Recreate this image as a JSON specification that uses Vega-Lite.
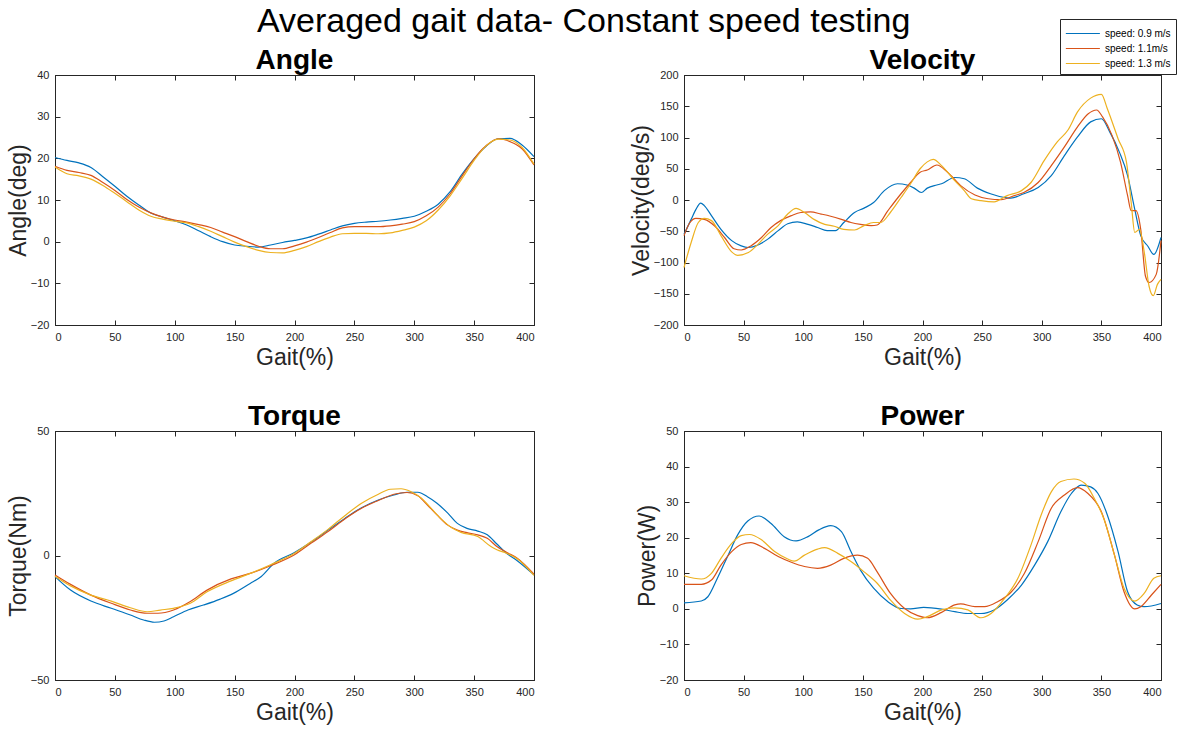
{
"$schema": "https://vega.github.io/schema/vega-lite/v6.json",
"padding": {"left": 6, "top": 4, "right": 3, "bottom": 3},
"title": {"text": "Averaged gait data- Constant speed testing", "fontSize": 34, "fontWeight": "normal", "font": "Liberation Sans", "color": "black", "anchor": "middle", "offset": -20, "dx": -8},
"config": {
  "font": "Liberation Sans",
  "view": {"stroke": "#262626", "strokeWidth": 1},
  "title": {"font": "Liberation Sans", "fontSize": 28, "fontWeight": "bold", "color": "black", "offset": -6},
  "axis": {"grid": false, "labelFont": "Liberation Sans", "labelFontSize": 11, "labelColor": "#262626", "titleFont": "Liberation Sans", "titleFontSize": 23, "titleFontWeight": "normal", "titleColor": "#262626", "tickColor": "#262626", "domainColor": "#262626", "tickSize": -5, "labelPadding": 11},
  "axisX": {"titlePadding": 4},
  "axisY": {"titlePadding": 0},
  "legend": {"orient": "none", "legendX": 1005, "legendY": -56, "fillColor": "white", "strokeColor": "#262626", "padding": 5, "labelFontSize": 10, "labelFont": "Liberation Sans", "labelColor": "black", "labelOffset": 21, "symbolType": "M-1,0H2.93", "symbolStrokeWidth": 1.2, "symbolSize": 300, "rowPadding": 0, "titleFontSize": 0}
},
"datasets": {
"angle": [
{"s":"a","g":0,"v":20.2},{"s":"a","g":10,"v":19.5},{"s":"a","g":20,"v":18.9},{"s":"a","g":30,"v":17.8},{"s":"a","g":40,"v":15.6},{"s":"a","g":50,"v":13.3},{"s":"a","g":60,"v":10.9},{"s":"a","g":70,"v":8.8},{"s":"a","g":80,"v":6.9},{"s":"a","g":90,"v":5.9},{"s":"a","g":100,"v":5.0},{"s":"a","g":110,"v":4.0},{"s":"a","g":120,"v":2.6},{"s":"a","g":130,"v":1.2},{"s":"a","g":140,"v":0.0},{"s":"a","g":150,"v":-0.8},{"s":"a","g":160,"v":-1.1},{"s":"a","g":170,"v":-1.3},{"s":"a","g":180,"v":-0.8},{"s":"a","g":190,"v":-0.2},{"s":"a","g":200,"v":0.3},{"s":"a","g":210,"v":0.9},{"s":"a","g":220,"v":1.8},{"s":"a","g":230,"v":2.8},{"s":"a","g":240,"v":3.8},{"s":"a","g":250,"v":4.4},{"s":"a","g":260,"v":4.7},{"s":"a","g":270,"v":4.9},{"s":"a","g":280,"v":5.2},{"s":"a","g":290,"v":5.6},{"s":"a","g":300,"v":6.1},{"s":"a","g":310,"v":7.3},{"s":"a","g":320,"v":9.0},{"s":"a","g":330,"v":12.0},{"s":"a","g":340,"v":16.2},{"s":"a","g":350,"v":19.9},{"s":"a","g":360,"v":22.9},{"s":"a","g":370,"v":24.7},{"s":"a","g":380,"v":24.8},{"s":"a","g":390,"v":23.2},{"s":"a","g":400,"v":20.4},
{"s":"b","g":0,"v":18.1},{"s":"b","g":10,"v":17.1},{"s":"b","g":20,"v":16.6},{"s":"b","g":30,"v":15.9},{"s":"b","g":40,"v":14.2},{"s":"b","g":50,"v":12.3},{"s":"b","g":60,"v":10.1},{"s":"b","g":70,"v":8.3},{"s":"b","g":80,"v":6.9},{"s":"b","g":90,"v":5.9},{"s":"b","g":100,"v":5.2},{"s":"b","g":110,"v":4.7},{"s":"b","g":120,"v":4.1},{"s":"b","g":130,"v":3.4},{"s":"b","g":140,"v":2.3},{"s":"b","g":150,"v":1.2},{"s":"b","g":160,"v":0.0},{"s":"b","g":170,"v":-1.1},{"s":"b","g":180,"v":-1.7},{"s":"b","g":190,"v":-1.7},{"s":"b","g":200,"v":-1.0},{"s":"b","g":210,"v":-0.1},{"s":"b","g":220,"v":1.0},{"s":"b","g":230,"v":2.2},{"s":"b","g":240,"v":3.3},{"s":"b","g":250,"v":3.6},{"s":"b","g":260,"v":3.6},{"s":"b","g":270,"v":3.6},{"s":"b","g":280,"v":3.8},{"s":"b","g":290,"v":4.2},{"s":"b","g":300,"v":4.8},{"s":"b","g":310,"v":6.2},{"s":"b","g":320,"v":8.3},{"s":"b","g":330,"v":11.5},{"s":"b","g":340,"v":15.8},{"s":"b","g":350,"v":19.9},{"s":"b","g":360,"v":23.0},{"s":"b","g":370,"v":24.7},{"s":"b","g":380,"v":24.0},{"s":"b","g":390,"v":22.3},{"s":"b","g":400,"v":18.4},
{"s":"c","g":0,"v":17.9},{"s":"c","g":10,"v":16.3},{"s":"c","g":20,"v":15.8},{"s":"c","g":30,"v":15.0},{"s":"c","g":40,"v":13.5},{"s":"c","g":50,"v":11.6},{"s":"c","g":60,"v":9.6},{"s":"c","g":70,"v":7.6},{"s":"c","g":80,"v":6.1},{"s":"c","g":90,"v":5.4},{"s":"c","g":100,"v":4.9},{"s":"c","g":110,"v":4.5},{"s":"c","g":120,"v":3.6},{"s":"c","g":130,"v":2.5},{"s":"c","g":140,"v":1.2},{"s":"c","g":150,"v":-0.1},{"s":"c","g":160,"v":-1.2},{"s":"c","g":170,"v":-2.1},{"s":"c","g":180,"v":-2.6},{"s":"c","g":190,"v":-2.7},{"s":"c","g":200,"v":-2.1},{"s":"c","g":210,"v":-1.2},{"s":"c","g":220,"v":0.0},{"s":"c","g":230,"v":1.1},{"s":"c","g":240,"v":1.9},{"s":"c","g":250,"v":2.0},{"s":"c","g":260,"v":2.0},{"s":"c","g":270,"v":1.9},{"s":"c","g":280,"v":2.1},{"s":"c","g":290,"v":2.7},{"s":"c","g":300,"v":3.5},{"s":"c","g":310,"v":5.0},{"s":"c","g":320,"v":7.6},{"s":"c","g":330,"v":11.0},{"s":"c","g":340,"v":15.2},{"s":"c","g":350,"v":19.5},{"s":"c","g":360,"v":23.0},{"s":"c","g":370,"v":24.6},{"s":"c","g":380,"v":24.4},{"s":"c","g":390,"v":22.6},{"s":"c","g":400,"v":18.6}
],
"velocity": [
{"s":"a","g":0,"v":-55},{"s":"a","g":6,"v":-31},{"s":"a","g":10,"v":-15},{"s":"a","g":14,"v":-5},{"s":"a","g":17,"v":-9},{"s":"a","g":23,"v":-25},{"s":"a","g":31,"v":-47},{"s":"a","g":40,"v":-65},{"s":"a","g":48,"v":-73.5},{"s":"a","g":54,"v":-76},{"s":"a","g":62,"v":-72},{"s":"a","g":70,"v":-63},{"s":"a","g":79,"v":-49},{"s":"a","g":87,"v":-38},{"s":"a","g":95,"v":-35},{"s":"a","g":104,"v":-39},{"s":"a","g":112,"v":-44},{"s":"a","g":120,"v":-49},{"s":"a","g":127,"v":-49},{"s":"a","g":134,"v":-36},{"s":"a","g":143,"v":-20},{"s":"a","g":151,"v":-13},{"s":"a","g":159,"v":-4},{"s":"a","g":168,"v":15},{"s":"a","g":179,"v":26},{"s":"a","g":187,"v":24},{"s":"a","g":193,"v":19},{"s":"a","g":199,"v":12},{"s":"a","g":204,"v":19},{"s":"a","g":212,"v":24},{"s":"a","g":216,"v":26},{"s":"a","g":227,"v":36},{"s":"a","g":235,"v":34},{"s":"a","g":246,"v":19},{"s":"a","g":257,"v":10},{"s":"a","g":269,"v":4},{"s":"a","g":274,"v":3},{"s":"a","g":285,"v":10},{"s":"a","g":297,"v":20},{"s":"a","g":308,"v":39},{"s":"a","g":319,"v":71},{"s":"a","g":330,"v":101},{"s":"a","g":341,"v":125},{"s":"a","g":350,"v":130},{"s":"a","g":357,"v":109},{"s":"a","g":365,"v":77},{"s":"a","g":372,"v":39},{"s":"a","g":378,"v":-15},{"s":"a","g":383,"v":-57},{"s":"a","g":389,"v":-74},{"s":"a","g":394,"v":-87},{"s":"a","g":400,"v":-60},
{"s":"b","g":0,"v":-57},{"s":"b","g":5,"v":-36},{"s":"b","g":10,"v":-29.5},{"s":"b","g":17,"v":-31},{"s":"b","g":26,"v":-42},{"s":"b","g":34,"v":-60},{"s":"b","g":42,"v":-78},{"s":"b","g":48,"v":-80},{"s":"b","g":56,"v":-73.5},{"s":"b","g":65,"v":-60},{"s":"b","g":73,"v":-44},{"s":"b","g":81,"v":-33},{"s":"b","g":90,"v":-25},{"s":"b","g":98,"v":-20},{"s":"b","g":106,"v":-19},{"s":"b","g":115,"v":-22.5},{"s":"b","g":123,"v":-26},{"s":"b","g":132,"v":-31},{"s":"b","g":140,"v":-36},{"s":"b","g":148,"v":-39},{"s":"b","g":157,"v":-41},{"s":"b","g":162,"v":-40},{"s":"b","g":171,"v":-17},{"s":"b","g":182,"v":10},{"s":"b","g":190,"v":28},{"s":"b","g":198,"v":44.5},{"s":"b","g":204,"v":48},{"s":"b","g":212,"v":56},{"s":"b","g":221,"v":44.5},{"s":"b","g":232,"v":23},{"s":"b","g":244,"v":8},{"s":"b","g":255,"v":2},{"s":"b","g":266,"v":0.5},{"s":"b","g":277,"v":7},{"s":"b","g":285,"v":12},{"s":"b","g":297,"v":28},{"s":"b","g":308,"v":55},{"s":"b","g":319,"v":85},{"s":"b","g":330,"v":117},{"s":"b","g":339,"v":138},{"s":"b","g":346,"v":144},{"s":"b","g":351,"v":133},{"s":"b","g":359,"v":103},{"s":"b","g":366,"v":61},{"s":"b","g":372,"v":7},{"s":"b","g":375,"v":-17},{"s":"b","g":379,"v":-17},{"s":"b","g":383,"v":-47},{"s":"b","g":387,"v":-122},{"s":"b","g":390,"v":-132},{"s":"b","g":396,"v":-119},{"s":"b","g":400,"v":-65},
{"s":"c","g":0,"v":-108},{"s":"c","g":6,"v":-68},{"s":"c","g":12,"v":-36},{"s":"c","g":17,"v":-29.5},{"s":"c","g":23,"v":-33},{"s":"c","g":31,"v":-57},{"s":"c","g":40,"v":-83},{"s":"c","g":45,"v":-88.5},{"s":"c","g":54,"v":-84},{"s":"c","g":62,"v":-71},{"s":"c","g":70,"v":-55},{"s":"c","g":79,"v":-41},{"s":"c","g":87,"v":-22.5},{"s":"c","g":94,"v":-13.5},{"s":"c","g":101,"v":-20},{"s":"c","g":109,"v":-31},{"s":"c","g":118,"v":-39},{"s":"c","g":126,"v":-42},{"s":"c","g":134,"v":-47},{"s":"c","g":143,"v":-48},{"s":"c","g":151,"v":-41},{"s":"c","g":159,"v":-36},{"s":"c","g":165,"v":-36},{"s":"c","g":173,"v":-20},{"s":"c","g":182,"v":4},{"s":"c","g":190,"v":26},{"s":"c","g":198,"v":50},{"s":"c","g":204,"v":61},{"s":"c","g":209,"v":65},{"s":"c","g":216,"v":55},{"s":"c","g":227,"v":31},{"s":"c","g":235,"v":15},{"s":"c","g":241,"v":2},{"s":"c","g":249,"v":-1},{"s":"c","g":260,"v":-3},{"s":"c","g":271,"v":7},{"s":"c","g":283,"v":15},{"s":"c","g":291,"v":28},{"s":"c","g":302,"v":63},{"s":"c","g":313,"v":93},{"s":"c","g":322,"v":112},{"s":"c","g":330,"v":141},{"s":"c","g":341,"v":163},{"s":"c","g":350,"v":169},{"s":"c","g":355,"v":146},{"s":"c","g":364,"v":98},{"s":"c","g":371,"v":61},{"s":"c","g":375,"v":-4},{"s":"c","g":378,"v":-52},{"s":"c","g":382,"v":-47},{"s":"c","g":386,"v":-84},{"s":"c","g":390,"v":-138},{"s":"c","g":393.5,"v":-153},{"s":"c","g":397,"v":-135},{"s":"c","g":400,"v":-127}
],
"torque": [
{"s":"a","g":0,"v":-8.5},{"s":"a","g":13,"v":-13.9},{"s":"a","g":30,"v":-18.3},{"s":"a","g":47,"v":-21.2},{"s":"a","g":63,"v":-23.9},{"s":"a","g":74,"v":-25.9},{"s":"a","g":83,"v":-26.8},{"s":"a","g":91,"v":-26.3},{"s":"a","g":99,"v":-24.6},{"s":"a","g":111,"v":-21.9},{"s":"a","g":124,"v":-19.9},{"s":"a","g":138,"v":-17.5},{"s":"a","g":149,"v":-15.2},{"s":"a","g":163,"v":-11.2},{"s":"a","g":172,"v":-8.5},{"s":"a","g":183,"v":-3.1},{"s":"a","g":200,"v":1.2},{"s":"a","g":214,"v":5.4},{"s":"a","g":228,"v":10.2},{"s":"a","g":242,"v":14.9},{"s":"a","g":256,"v":19.2},{"s":"a","g":270,"v":22.3},{"s":"a","g":283,"v":24.3},{"s":"a","g":294,"v":25.4},{"s":"a","g":303,"v":25.4},{"s":"a","g":311,"v":23.6},{"s":"a","g":319,"v":21},{"s":"a","g":328,"v":17},{"s":"a","g":336,"v":12.9},{"s":"a","g":344,"v":10.9},{"s":"a","g":353,"v":9.8},{"s":"a","g":361,"v":8.3},{"s":"a","g":369,"v":4.6},{"s":"a","g":377,"v":0.9},{"s":"a","g":386,"v":-2.1},{"s":"a","g":400,"v":-7.8},
{"s":"b","g":0,"v":-7.8},{"s":"b","g":13,"v":-11.6},{"s":"b","g":30,"v":-15.9},{"s":"b","g":47,"v":-19.2},{"s":"b","g":63,"v":-21.9},{"s":"b","g":77,"v":-23.2},{"s":"b","g":86,"v":-23.2},{"s":"b","g":99,"v":-21.9},{"s":"b","g":113,"v":-18.5},{"s":"b","g":127,"v":-13.9},{"s":"b","g":147,"v":-9.4},{"s":"b","g":163,"v":-7.2},{"s":"b","g":180,"v":-4.1},{"s":"b","g":200,"v":0.3},{"s":"b","g":214,"v":5},{"s":"b","g":228,"v":9.6},{"s":"b","g":242,"v":14.7},{"s":"b","g":256,"v":19},{"s":"b","g":270,"v":22.1},{"s":"b","g":283,"v":24.6},{"s":"b","g":294,"v":25.3},{"s":"b","g":303,"v":24},{"s":"b","g":311,"v":20.3},{"s":"b","g":319,"v":16.3},{"s":"b","g":328,"v":12.2},{"s":"b","g":336,"v":10.2},{"s":"b","g":344,"v":9.2},{"s":"b","g":353,"v":8.3},{"s":"b","g":361,"v":6.9},{"s":"b","g":369,"v":3.6},{"s":"b","g":377,"v":1.3},{"s":"b","g":386,"v":-1.1},{"s":"b","g":400,"v":-7.5},
{"s":"c","g":0,"v":-8.3},{"s":"c","g":13,"v":-12.2},{"s":"c","g":30,"v":-15.9},{"s":"c","g":47,"v":-18.3},{"s":"c","g":63,"v":-21},{"s":"c","g":77,"v":-22.6},{"s":"c","g":88,"v":-21.9},{"s":"c","g":99,"v":-21.2},{"s":"c","g":113,"v":-19.2},{"s":"c","g":127,"v":-14.6},{"s":"c","g":147,"v":-10.2},{"s":"c","g":163,"v":-7.2},{"s":"c","g":180,"v":-3.7},{"s":"c","g":200,"v":0.9},{"s":"c","g":214,"v":5.6},{"s":"c","g":228,"v":10.5},{"s":"c","g":242,"v":16},{"s":"c","g":256,"v":21},{"s":"c","g":270,"v":24.6},{"s":"c","g":280,"v":26.6},{"s":"c","g":289,"v":26.8},{"s":"c","g":297,"v":25.7},{"s":"c","g":306,"v":23},{"s":"c","g":314,"v":19},{"s":"c","g":322,"v":14.9},{"s":"c","g":331,"v":11.2},{"s":"c","g":339,"v":9.3},{"s":"c","g":353,"v":7.6},{"s":"c","g":364,"v":3.6},{"s":"c","g":369,"v":2.3},{"s":"c","g":377,"v":0.9},{"s":"c","g":386,"v":-1.3},{"s":"c","g":400,"v":-8.0}
],
"power": [
{"s":"a","g":0,"v":1.7},{"s":"a","g":14.5,"v":2.2},{"s":"a","g":20,"v":3.4},{"s":"a","g":28,"v":8.6},{"s":"a","g":37,"v":15.1},{"s":"a","g":45,"v":20.8},{"s":"a","g":53.5,"v":24.7},{"s":"a","g":63,"v":26.1},{"s":"a","g":73,"v":24},{"s":"a","g":84,"v":20.3},{"s":"a","g":94,"v":19.1},{"s":"a","g":104,"v":20.3},{"s":"a","g":113,"v":22.2},{"s":"a","g":123,"v":23.4},{"s":"a","g":132,"v":21.7},{"s":"a","g":140,"v":16.1},{"s":"a","g":148,"v":10.9},{"s":"a","g":159,"v":5.8},{"s":"a","g":171,"v":2.0},{"s":"a","g":182,"v":0.1},{"s":"a","g":190,"v":0},{"s":"a","g":201,"v":0.4},{"s":"a","g":216,"v":-0.1},{"s":"a","g":227,"v":-0.8},{"s":"a","g":238,"v":-1.3},{"s":"a","g":249,"v":-1.3},{"s":"a","g":260,"v":-0.3},{"s":"a","g":271,"v":2.5},{"s":"a","g":283,"v":6.7},{"s":"a","g":294,"v":12.3},{"s":"a","g":305,"v":18.9},{"s":"a","g":316,"v":27.3},{"s":"a","g":325,"v":32.5},{"s":"a","g":333,"v":34.8},{"s":"a","g":341,"v":34.3},{"s":"a","g":347,"v":32.5},{"s":"a","g":355,"v":26.4},{"s":"a","g":364,"v":16.1},{"s":"a","g":372,"v":4.8},{"s":"a","g":380,"v":1.1},{"s":"a","g":386,"v":0.6},{"s":"a","g":400,"v":1.5},
{"s":"b","g":0,"v":6.9},{"s":"b","g":14.5,"v":6.9},{"s":"b","g":23,"v":8.1},{"s":"b","g":31,"v":12.3},{"s":"b","g":40,"v":16.1},{"s":"b","g":48,"v":18.1},{"s":"b","g":56,"v":18.6},{"s":"b","g":67.5,"v":17},{"s":"b","g":79,"v":14.7},{"s":"b","g":90,"v":13.1},{"s":"b","g":101,"v":11.9},{"s":"b","g":112,"v":11.4},{"s":"b","g":123,"v":12.3},{"s":"b","g":134,"v":14.2},{"s":"b","g":145.5,"v":15.1},{"s":"b","g":154,"v":14.2},{"s":"b","g":162,"v":10.4},{"s":"b","g":173,"v":4.4},{"s":"b","g":185,"v":0.1},{"s":"b","g":196,"v":-1.9},{"s":"b","g":204,"v":-2.5},{"s":"b","g":216,"v":-1},{"s":"b","g":227,"v":1.1},{"s":"b","g":232,"v":1.4},{"s":"b","g":244,"v":0.6},{"s":"b","g":252,"v":0.6},{"s":"b","g":263,"v":2.0},{"s":"b","g":274,"v":4.6},{"s":"b","g":285.5,"v":10},{"s":"b","g":297,"v":18.9},{"s":"b","g":308,"v":28.3},{"s":"b","g":319,"v":32},{"s":"b","g":330,"v":34.1},{"s":"b","g":338.5,"v":32.5},{"s":"b","g":350,"v":27.3},{"s":"b","g":361,"v":15.1},{"s":"b","g":369,"v":4.8},{"s":"b","g":378,"v":0},{"s":"b","g":383,"v":0.6},{"s":"b","g":392,"v":3.9},{"s":"b","g":400,"v":6.9},
{"s":"c","g":0,"v":9.3},{"s":"c","g":14.5,"v":8.4},{"s":"c","g":23,"v":10},{"s":"c","g":31,"v":14.2},{"s":"c","g":40,"v":18.4},{"s":"c","g":48,"v":20.6},{"s":"c","g":55,"v":20.9},{"s":"c","g":65,"v":19.4},{"s":"c","g":76,"v":16.1},{"s":"c","g":87,"v":14},{"s":"c","g":92.5,"v":13.4},{"s":"c","g":101,"v":15.1},{"s":"c","g":112,"v":16.8},{"s":"c","g":118,"v":17.2},{"s":"c","g":129,"v":15.6},{"s":"c","g":140,"v":13.3},{"s":"c","g":151,"v":10.4},{"s":"c","g":162,"v":7.2},{"s":"c","g":173,"v":2.5},{"s":"c","g":185,"v":-1.3},{"s":"c","g":196,"v":-2.9},{"s":"c","g":204,"v":-2.2},{"s":"c","g":216,"v":-0.3},{"s":"c","g":227,"v":0.3},{"s":"c","g":238,"v":-0.3},{"s":"c","g":249,"v":-2.5},{"s":"c","g":257.5,"v":-1.3},{"s":"c","g":269,"v":3.0},{"s":"c","g":280,"v":8.6},{"s":"c","g":291,"v":18},{"s":"c","g":299.5,"v":26.4},{"s":"c","g":308,"v":32.9},{"s":"c","g":316,"v":35.8},{"s":"c","g":327,"v":36.5},{"s":"c","g":336,"v":35.3},{"s":"c","g":344,"v":31.1},{"s":"c","g":352.5,"v":25},{"s":"c","g":361,"v":15.1},{"s":"c","g":369,"v":5.8},{"s":"c","g":378,"v":2.2},{"s":"c","g":386,"v":4.4},{"s":"c","g":394,"v":8.6},{"s":"c","g":400,"v":9.3}
]
},
"columns": 2,
"spacing": {"row": 106, "column": 150},
"bounds": "flush",
"concat": [
{"title": "Angle", "width": 479, "height": 250, "data": {"name": "angle"},
 "layer": [
  {"mark": {"type": "line", "interpolate": "monotone", "strokeWidth": 1.2},
   "encoding": {
    "x": {"field": "g", "type": "quantitative", "scale": {"domain": [0, 400], "nice": false}, "axis": {"title": "Gait(%)", "values": [0,50,100,150,200,250,300,350,400]}},
    "y": {"field": "v", "type": "quantitative", "scale": {"domain": [-20, 40], "nice": false}, "axis": {"title": "Angle(deg)", "values": [-20,-10,0,10,20,30,40]}},
    "color": {"field": "s", "type": "nominal", "scale": {"domain": ["a","b","c"], "range": ["#0072BD","#D95319","#EDB120"]}, "legend": {"title": null, "labelExpr": "datum.label == 'a' ? 'speed: 0.9 m/s' : datum.label == 'b' ? 'speed: 1.1m/s' : 'speed: 1.3 m/s'"}}}},
  {"mark": {"type": "point", "opacity": 0},
   "encoding": {
    "x": {"field": "g", "type": "quantitative", "scale": {"domain": [0, 400], "nice": false}, "axis": {"orient": "top", "title": null, "labels": false, "domain": false, "values": [0,50,100,150,200,250,300,350,400]}},
    "y": {"field": "v", "type": "quantitative", "scale": {"domain": [-20, 40], "nice": false}, "axis": {"orient": "right", "title": null, "labels": false, "domain": false, "values": [-20,-10,0,10,20,30,40]}}}}
 ],
 "resolve": {"axis": {"x": "independent", "y": "independent"}}},
{"title": "Velocity", "width": 477, "height": 250, "data": {"name": "velocity"},
 "layer": [
  {"mark": {"type": "line", "interpolate": "monotone", "strokeWidth": 1.2},
   "encoding": {
    "x": {"field": "g", "type": "quantitative", "scale": {"domain": [0, 400], "nice": false}, "axis": {"title": "Gait(%)", "values": [0,50,100,150,200,250,300,350,400]}},
    "y": {"field": "v", "type": "quantitative", "scale": {"domain": [-200, 200], "nice": false}, "axis": {"title": "Velocity(deg/s)", "values": [-200,-150,-100,-50,0,50,100,150,200]}},
    "color": {"field": "s", "type": "nominal", "scale": {"domain": ["a","b","c"], "range": ["#0072BD","#D95319","#EDB120"]}, "legend": {"title": null, "labelExpr": "datum.label == 'a' ? 'speed: 0.9 m/s' : datum.label == 'b' ? 'speed: 1.1m/s' : 'speed: 1.3 m/s'"}}}},
  {"mark": {"type": "point", "opacity": 0},
   "encoding": {
    "x": {"field": "g", "type": "quantitative", "scale": {"domain": [0, 400], "nice": false}, "axis": {"orient": "top", "title": null, "labels": false, "domain": false, "values": [0,50,100,150,200,250,300,350,400]}},
    "y": {"field": "v", "type": "quantitative", "scale": {"domain": [-200, 200], "nice": false}, "axis": {"orient": "right", "title": null, "labels": false, "domain": false, "values": [-200,-150,-100,-50,0,50,100,150,200]}}}}
 ],
 "resolve": {"axis": {"x": "independent", "y": "independent"}}},
{"title": "Torque", "width": 479, "height": 249, "data": {"name": "torque"},
 "layer": [
  {"mark": {"type": "line", "interpolate": "monotone", "strokeWidth": 1.2},
   "encoding": {
    "x": {"field": "g", "type": "quantitative", "scale": {"domain": [0, 400], "nice": false}, "axis": {"title": "Gait(%)", "values": [0,50,100,150,200,250,300,350,400]}},
    "y": {"field": "v", "type": "quantitative", "scale": {"domain": [-50, 50], "nice": false}, "axis": {"title": "Torque(Nm)", "values": [-50,0,50]}},
    "color": {"field": "s", "type": "nominal", "scale": {"domain": ["a","b","c"], "range": ["#0072BD","#D95319","#EDB120"]}, "legend": {"title": null, "labelExpr": "datum.label == 'a' ? 'speed: 0.9 m/s' : datum.label == 'b' ? 'speed: 1.1m/s' : 'speed: 1.3 m/s'"}}}},
  {"mark": {"type": "point", "opacity": 0},
   "encoding": {
    "x": {"field": "g", "type": "quantitative", "scale": {"domain": [0, 400], "nice": false}, "axis": {"orient": "top", "title": null, "labels": false, "domain": false, "values": [0,50,100,150,200,250,300,350,400]}},
    "y": {"field": "v", "type": "quantitative", "scale": {"domain": [-50, 50], "nice": false}, "axis": {"orient": "right", "title": null, "labels": false, "domain": false, "values": [-50,0,50]}}}}
 ],
 "resolve": {"axis": {"x": "independent", "y": "independent"}}},
{"title": "Power", "width": 477, "height": 249, "data": {"name": "power"},
 "layer": [
  {"mark": {"type": "line", "interpolate": "monotone", "strokeWidth": 1.2},
   "encoding": {
    "x": {"field": "g", "type": "quantitative", "scale": {"domain": [0, 400], "nice": false}, "axis": {"title": "Gait(%)", "values": [0,50,100,150,200,250,300,350,400]}},
    "y": {"field": "v", "type": "quantitative", "scale": {"domain": [-20, 50], "nice": false}, "axis": {"title": "Power(W)", "values": [-20,-10,0,10,20,30,40,50]}},
    "color": {"field": "s", "type": "nominal", "scale": {"domain": ["a","b","c"], "range": ["#0072BD","#D95319","#EDB120"]}, "legend": {"title": null, "labelExpr": "datum.label == 'a' ? 'speed: 0.9 m/s' : datum.label == 'b' ? 'speed: 1.1m/s' : 'speed: 1.3 m/s'"}}}},
  {"mark": {"type": "point", "opacity": 0},
   "encoding": {
    "x": {"field": "g", "type": "quantitative", "scale": {"domain": [0, 400], "nice": false}, "axis": {"orient": "top", "title": null, "labels": false, "domain": false, "values": [0,50,100,150,200,250,300,350,400]}},
    "y": {"field": "v", "type": "quantitative", "scale": {"domain": [-20, 50], "nice": false}, "axis": {"orient": "right", "title": null, "labels": false, "domain": false, "values": [-20,-10,0,10,20,30,40,50]}}}}
 ],
 "resolve": {"axis": {"x": "independent", "y": "independent"}}}
]
}
